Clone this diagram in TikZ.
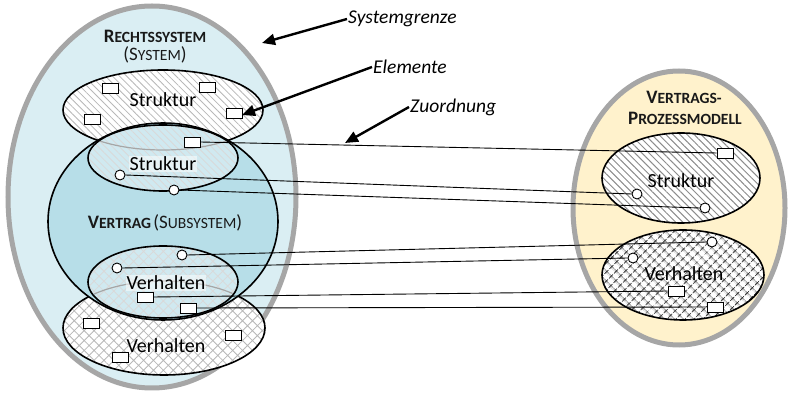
\documentclass[tikz,border=0pt]{standalone}
\usepackage{fontspec}
\setmainfont{Carlito}
\usetikzlibrary{patterns.meta,arrows.meta,shapes.geometric}
\definecolor{sysblue}{HTML}{DAEEF3}
\definecolor{subblue}{HTML}{B7DEE8}
\definecolor{procbeige}{HTML}{FFF2CC}
\definecolor{bordergray}{HTML}{A6A6A6}
\newcommand\capsB[2]{{\fontsize{19}{22}\selectfont #1}{\fontsize{15.6}{18}\selectfont #2}}
\begin{document}
\begin{tikzpicture}[x=1pt,y=-1pt,
  outerell/.style={ellipse, draw=bordergray, line width=5pt, inner sep=0pt},
  setell/.style={ellipse, draw=black, line width=1.6pt, inner sep=0pt},
  hatchA/.style={preaction={fill=white}, pattern={Lines[angle=-45,distance=5pt,line width=0.8pt]}, pattern color=black!28},
  hatchB/.style={preaction={fill=white}, pattern={Lines[angle=-45,distance=5pt,line width=1pt]}, pattern color=black!45},
  crossA/.style={preaction={fill=white}, pattern={Hatch[angle=45,distance=7pt,line width=0.8pt]}, pattern color=black!28},
  crossB/.style={preaction={fill=white}, pattern={Hatch[angle=45,distance=6.5pt,line width=1.1pt]}, pattern color=black!85},
  elem/.style={draw=black, fill=white, line width=0.9pt, minimum width=16pt, minimum height=10pt, inner sep=0pt},
  pin/.style={circle, draw=black, fill=white, line width=0.9pt, minimum size=10pt, inner sep=0pt},
  link/.style={line width=0.9pt},
  note/.style={font=\fontsize{19.5}{23}\selectfont\itshape, anchor=west, inner sep=1pt},
  pointer/.style={line width=2.4pt, -{Triangle[length=13pt,width=11pt]}},
  lbl/.style={font=\fontsize{20}{24}\selectfont, inner sep=1pt},
  title/.style={inner sep=0pt, align=center, text=black!90},
]
\useasboundingbox (0,0) rectangle (788,395);
% outer systems
\node[outerell, fill=sysblue, minimum width=288pt, minimum height=382pt] (sys) at (152,197) {};
\node[outerell, fill=procbeige, minimum width=212pt, minimum height=274pt] (proc) at (679,208) {};
% left sets
\node[setell, hatchA, minimum width=200pt, minimum height=80pt] (struk) at (163,110) {};
\node[setell, crossA, minimum width=202pt, minimum height=94pt] (verh) at (164,328) {};
\node[setell, fill=subblue, minimum width=230pt, minimum height=197pt] (vert) at (163,221.5) {};
\node[setell, preaction={fill=white, fill opacity=0.35}, pattern={Lines[angle=-45,distance=5pt,line width=0.8pt]}, pattern color=white!85!black, minimum width=150pt, minimum height=66pt] (istruk) at (163,158) {};
\node[setell, preaction={fill=white, fill opacity=0.35}, pattern={Hatch[angle=45,distance=7pt,line width=0.8pt]}, pattern color=white!85!black, minimum width=150pt, minimum height=72pt] (iverh) at (163,282) {};
\begin{scope}
\clip (istruk.center) ellipse [x radius=74, y radius=32];
\draw[black!35, line width=1.2pt] (struk.center) ellipse [x radius=100, y radius=40];
\end{scope}
\begin{scope}
\clip (iverh.center) ellipse [x radius=74, y radius=35];
\draw[black!35, line width=1.2pt] (verh.center) ellipse [x radius=101, y radius=47];
\end{scope}
% right sets
\node[setell, hatchB, minimum width=158pt, minimum height=90pt] (rstruk) at (681,178) {};
\node[setell, crossB, minimum width=162pt, minimum height=90pt] (rverh) at (683,275) {};
% labels
\node[title, font=\bfseries] (t1) at (155,36) {\capsB{R}{ECHTSSYSTEM}};
\node[title] (t2) at (155,55) {\capsB{(S}{YSTEM}\capsB{)}{}};
\node[title] (t3) at (165,223) {\textbf{\capsB{V}{ERTRAG}} \capsB{(S}{UBSYSTEM}\capsB{)}{}};
\node[title, font=\bfseries] (t4) at (684,97) {\capsB{V}{ERTRAGS-}};
\node[title, font=\bfseries] (t5) at (685,118) {\capsB{P}{ROZESSMODELL}};
\node[lbl] (l1) at (163,100) {Struktur};
\node[lbl, fill=white, fill opacity=0.5, text opacity=1] (l2) at (163,164) {Struktur};
\node[lbl, fill=white, fill opacity=0.5, text opacity=1] (l3) at (166,283) {Verhalten};
\node[lbl] (l4) at (166,346) {Verhalten};
\node[lbl] (l5) at (681,181) {Struktur};
\node[lbl] (l6) at (684,274) {Verhalten};
% connectors endpoints
\node[elem] (e1) at (192,142) {};
\node[elem] (f1) at (725,153) {};
\node[pin] (c2) at (120,175) {};
\node[pin] (d2) at (637,194) {};
\node[pin] (c3) at (174,190) {};
\node[pin] (d3) at (705,208) {};
\node[pin] (c4) at (182,255) {};
\node[pin] (d4) at (712,242) {};
\node[pin] (c5) at (117,268) {};
\node[pin] (d5) at (633,258) {};
\node[elem] (e6) at (145,297) {};
\node[elem] (f6) at (676,291) {};
\node[elem] (e7) at (188,308) {};
\node[elem] (f7) at (715,307) {};
\draw[link] (e1.east) -- (f1.west);
\draw[link] (c2.east) -- (d2.west);
\draw[link] (c3.east) -- (d3.west);
\draw[link] (c4.east) -- (d4.west);
\draw[link] (c5.east) -- (d5.west);
\draw[link] (e6.east) -- (f6.west);
\draw[link] (e7.east) -- (f7.west);
% other elements
\node[elem] (s1) at (110,88) {};
\node[elem] (s2) at (207,87) {};
\node[elem] (s3) at (92,119) {};
\node[elem] (s4) at (234,113) {};
\node[elem] (v1) at (91,323) {};
\node[elem] (v2) at (233,335) {};
\node[elem] (v3) at (120,357) {};
% annotations
\node[note] (n1) at (347,19) {Systemgrenze};
\node[note] (n2) at (372,67) {Elemente};
\node[note] (n3) at (409,107) {Zuordnung};
\coordinate (p1) at (262,43);
\coordinate (p2) at (242,115);
\coordinate (p3) at (345,143);
\draw[pointer] (n1.west) -- (p1);
\draw[pointer] (n2.west) -- (p2);
\draw[pointer] (n3.west) -- (p3);
\end{tikzpicture}
\end{document}
